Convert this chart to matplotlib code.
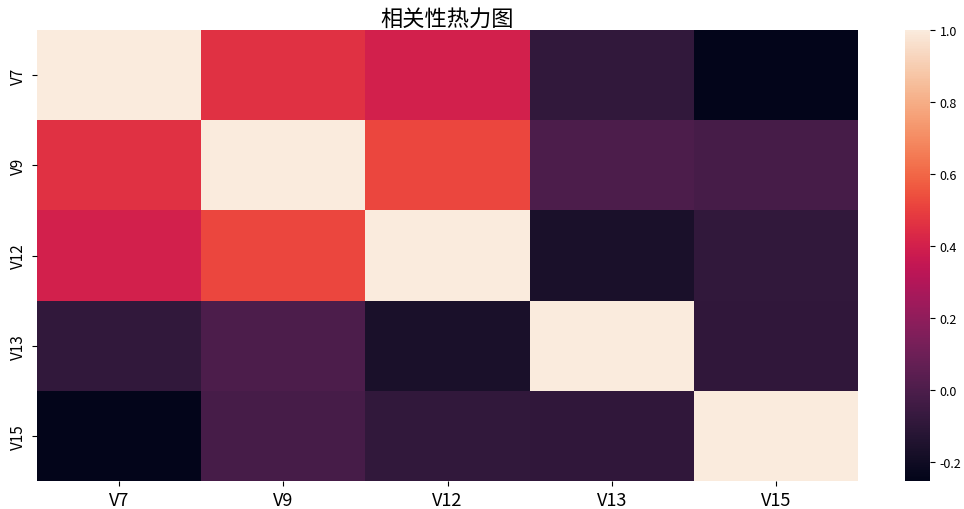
import numpy as np
import pandas as pd
import matplotlib
matplotlib.use("Agg")
import matplotlib.pyplot as plt
import seaborn as sns

plt.rcParams['font.family'] = ['Noto Sans CJK SC', 'DejaVu Sans']
plt.rcParams['axes.unicode_minus'] = False

labels = ["V7", "V9", "V12", "V13", "V15"]
# correlation matrix
row_v7 = [1.00, 0.46, 0.40, -0.09, -0.253]
row_v9 = [0.46, 1.00, 0.52, 0.0, -0.02]
row_v12 = [0.40, 0.52, 1.00, -0.165, -0.09]
row_v13 = [-0.09, 0.0, -0.165, 1.00, -0.095]
row_v15 = [-0.253, -0.02, -0.09, -0.095, 1.00]

corr = pd.DataFrame([row_v7, row_v9, row_v12, row_v13, row_v15],
                    index=labels, columns=labels)

fig = plt.figure(figsize=(9.64, 5.1), dpi=100)
ax = fig.add_axes([37 / 964, 1 - 482 / 510, (858 - 37) / 964, (482 - 31) / 510])
cax = fig.add_axes([905 / 964, 1 - 482 / 510, 25 / 964, (482 - 31) / 510])

sns.heatmap(corr, ax=ax, cbar_ax=cax)

ax.set_title("相关性热力图", fontsize=16, pad=3)
ax.tick_params(axis='x', labelsize=13, rotation=0)
ax.tick_params(axis='y', labelsize=11, rotation=90)
for t in ax.get_yticklabels():
    t.set_va('center')
cax.tick_params(labelsize=9)
cax.set_yticks([-0.2, 0.0, 0.2, 0.4, 0.6, 0.8, 1.0])

fig.savefig("out.png", dpi=100)
